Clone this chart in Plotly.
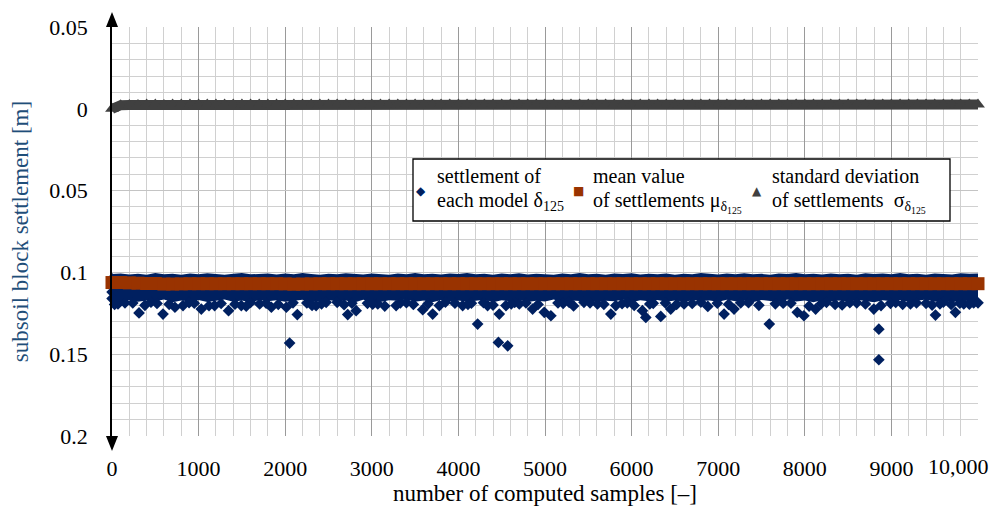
import plotly.graph_objects as go

# ---------------- data ----------------
# sample numbers every 100 samples (0 ... 10000)
stat_samples = [0, 100, 200, 300, 400, 500, 600, 700, 800, 900,
                1000, 1100, 1200, 1300, 1400, 1500, 1600, 1700, 1800, 1900,
                2000, 2100, 2200, 2300, 2400, 2500, 2600, 2700, 2800, 2900,
                3000, 3100, 3200, 3300, 3400, 3500, 3600, 3700, 3800, 3900,
                4000, 4100, 4200, 4300, 4400, 4500, 4600, 4700, 4800, 4900,
                5000, 5100, 5200, 5300, 5400, 5500, 5600, 5700, 5800, 5900,
                6000, 6100, 6200, 6300, 6400, 6500, 6600, 6700, 6800, 6900,
                7000, 7100, 7200, 7300, 7400, 7500, 7600, 7700, 7800, 7900,
                8000, 8100, 8200, 8300, 8400, 8500, 8600, 8700, 8800, 8900,
                9000, 9100, 9200, 9300, 9400, 9500, 9600, 9700, 9800, 9900, 10000]

# extent of the dense cloud of settlements δ125 [m] (smallest / largest per 100 samples)
band_upper = [0.1010, 0.1006, 0.1013, 0.1008, 0.1014, 0.1004, 0.1011, 0.1009, 0.1015, 0.1007,
              0.1012, 0.1005, 0.1010, 0.1014, 0.1008, 0.1003, 0.1012, 0.1009, 0.1006, 0.1013,
              0.1007, 0.1011, 0.1004, 0.1010, 0.1014, 0.1008, 0.1012, 0.1005, 0.1009, 0.1013,
              0.1006, 0.1010, 0.1015, 0.1007, 0.1011, 0.1004, 0.1012, 0.1008, 0.1013, 0.1006,
              0.1010, 0.1003, 0.1012, 0.1009, 0.1014, 0.1007, 0.1011, 0.1005, 0.1013, 0.1008,
              0.1010, 0.1014, 0.1006, 0.1011, 0.1004, 0.1012, 0.1008, 0.1015, 0.1007, 0.1010,
              0.1005, 0.1013, 0.1009, 0.1011, 0.1006, 0.1014, 0.1008, 0.1012, 0.1004, 0.1010,
              0.1013, 0.1007, 0.1011, 0.1005, 0.1012, 0.1009, 0.1014, 0.1006, 0.1010, 0.1003,
              0.1012, 0.1008, 0.1013, 0.1006, 0.1011, 0.1009, 0.1015, 0.1005, 0.1010, 0.1007,
              0.1012, 0.1004, 0.1011, 0.1008, 0.1014, 0.1006, 0.1010, 0.1013, 0.1005, 0.1009, 0.1006]
band_lower = [0.1182, 0.1174, 0.1168, 0.1180, 0.1171, 0.1177, 0.1166, 0.1183, 0.1172, 0.1178,
              0.1169, 0.1181, 0.1174, 0.1166, 0.1179, 0.1172, 0.1184, 0.1168, 0.1176, 0.1170,
              0.1180, 0.1173, 0.1167, 0.1182, 0.1175, 0.1169, 0.1178, 0.1171, 0.1184, 0.1167,
              0.1176, 0.1181, 0.1170, 0.1174, 0.1166, 0.1179, 0.1172, 0.1183, 0.1168, 0.1177,
              0.1171, 0.1180, 0.1174, 0.1167, 0.1182, 0.1170, 0.1176, 0.1169, 0.1181, 0.1173,
              0.1178, 0.1166, 0.1183, 0.1171, 0.1175, 0.1168, 0.1180, 0.1173, 0.1177, 0.1165,
              0.1182, 0.1170, 0.1176, 0.1168, 0.1179, 0.1172, 0.1184, 0.1169, 0.1175, 0.1171,
              0.1180, 0.1167, 0.1177, 0.1173, 0.1182, 0.1169, 0.1174, 0.1181, 0.1166, 0.1178,
              0.1171, 0.1183, 0.1168, 0.1176, 0.1172, 0.1180, 0.1167, 0.1175, 0.1182, 0.1170,
              0.1177, 0.1169, 0.1181, 0.1173, 0.1166, 0.1179, 0.1172, 0.1184, 0.1170, 0.1176, 0.1180]

# individually visible settlement samples (lower fringe and outliers)
fringe_samples = [69, 312, 589, 727, 820, 1031, 1185, 1346, 1493, 1705, 1840, 2013, 2140, 2051, 2357, 2473,
                  2722, 2819, 3069, 3281, 3588, 3703, 4049, 4222, 4337, 4472, 4549, 4462, 4569, 4703, 4857, 4992,
                  5068, 5279, 5606, 5760, 5818, 6125, 6164, 6337, 6452, 6606, 7068, 7183, 7590,
                  7913, 7990, 8125, 8431, 8797, 8855, 8855, 9220, 9509, 9739, 9836,
                  150, 450, 950, 1600, 2250, 2600, 2950, 3400, 3850, 4150, 4650, 5150, 5450, 5950,
                  6250, 6800, 7350, 7750, 8250, 8600, 9050, 9400, 9600, 9950,
                  30, 240, 380, 520, 660, 890, 1120, 1260, 1420, 1550, 1780, 1920, 2090, 2310, 2420,
                  2680, 2770, 3010, 3150, 3330, 3480, 3650, 3780, 3960, 4110, 4290, 4400, 4610, 4780,
                  4920, 5210, 5330, 5520, 5680, 5890, 6030, 6210, 6390, 6520, 6700, 6880, 6990, 7120,
                  7260, 7470, 7660, 7840, 8050, 8190, 8350, 8520, 8700, 8880, 8990, 9130, 9290, 9470,
                  9560, 9690, 9790, 9900, 10000]
fringe_values = [0.1193, 0.1248, 0.1255, 0.1213, 0.1203, 0.1224, 0.1203, 0.1234, 0.1203, 0.1193, 0.1213, 0.1213,
                 0.1258, 0.1432, 0.1203, 0.1183,
                 0.1258, 0.1234, 0.1193, 0.1203, 0.1228, 0.1255, 0.1203, 0.1316, 0.1203, 0.1255, 0.1203, 0.1428,
                 0.1449, 0.1193, 0.1224, 0.1244,
                 0.1265, 0.1183, 0.1193, 0.1255, 0.1203, 0.1234, 0.1275, 0.1269, 0.1224, 0.1193, 0.1255, 0.1224,
                 0.1316,
                 0.1244, 0.1265, 0.1224, 0.1199, 0.1224, 0.1347, 0.1534, 0.1193, 0.1261, 0.1244, 0.1193,
                 0.1186, 0.1182, 0.1188, 0.1184, 0.1187, 0.1183, 0.1189, 0.1185, 0.1182, 0.1188, 0.1184, 0.1187,
                 0.1183, 0.1186, 0.1189, 0.1182, 0.1185, 0.1188, 0.1183, 0.1186, 0.1184, 0.1189, 0.1182, 0.1187,
                 0.1196, 0.1187, 0.1201, 0.1190, 0.1195, 0.1185, 0.1204, 0.1190, 0.1194, 0.1207, 0.1188, 0.1196,
                 0.1186, 0.1202, 0.1192,
                 0.1197, 0.1188, 0.1194, 0.1206, 0.1186, 0.1196, 0.1192, 0.1203, 0.1188, 0.1195, 0.1185, 0.1200,
                 0.1193, 0.1187,
                 0.1196, 0.1189, 0.1205, 0.1186, 0.1195, 0.1191, 0.1202, 0.1193, 0.1187, 0.1196, 0.1190, 0.1208,
                 0.1188, 0.1195,
                 0.1186, 0.1201, 0.1192, 0.1188, 0.1206, 0.1191, 0.1196, 0.1185, 0.1193, 0.1203, 0.1189, 0.1195,
                 0.1187, 0.1200,
                 0.1192, 0.1196, 0.1188, 0.1194, 0.1186]

# first samples (cloud already spread at sample 1)
first_samples = [1, 1, 1, 1]
first_values = [0.1040, 0.1080, 0.1120, 0.1160]

# running mean μ and standard deviation σ of settlements, every 100 samples
mean_values = [0.1062, 0.1062, 0.1064, 0.1066, 0.1068, 0.1068, 0.1071, 0.1071, 0.1070, 0.1069,
               0.1069, 0.1069, 0.1069, 0.1069, 0.1069, 0.1069, 0.1069, 0.1069, 0.1069, 0.1069,
               0.1070, 0.1072, 0.1071, 0.1070, 0.1069, 0.1069, 0.1069, 0.1069, 0.1069, 0.1069,
               0.1069, 0.1069, 0.1069, 0.1069, 0.1069, 0.1069, 0.1069, 0.1069, 0.1069, 0.1069,
               0.1069, 0.1069, 0.1069, 0.1069, 0.1069, 0.1069, 0.1069, 0.1069, 0.1069, 0.1069,
               0.1069, 0.1069, 0.1069, 0.1069, 0.1069, 0.1069, 0.1069, 0.1069, 0.1069, 0.1069,
               0.1069, 0.1069, 0.1069, 0.1069, 0.1069, 0.1069, 0.1069, 0.1069, 0.1069, 0.1069,
               0.1069, 0.1069, 0.1069, 0.1069, 0.1069, 0.1069, 0.1069, 0.1069, 0.1069, 0.1069,
               0.1069, 0.1069, 0.1069, 0.1069, 0.1069, 0.1069, 0.1069, 0.1069, 0.1069, 0.1069,
               0.1069, 0.1069, 0.1069, 0.1069, 0.1069, 0.1069, 0.1069, 0.1069, 0.1069, 0.1069, 0.1069]
std_values = [0.0000, 0.0022, 0.0023, 0.0023, 0.0026, 0.0026, 0.0023, 0.0026, 0.0026, 0.0026,
              0.0026, 0.0026, 0.0026, 0.0026, 0.0026, 0.0026, 0.0026, 0.0026, 0.0026, 0.0026,
              0.0026, 0.0026, 0.0026, 0.0026, 0.0026, 0.0026, 0.0026, 0.0026, 0.0026, 0.0026,
              0.0026, 0.0026, 0.0026, 0.0026, 0.0026, 0.0026, 0.0026, 0.0026, 0.0026, 0.0026,
              0.0026, 0.0026, 0.0026, 0.0026, 0.0026, 0.0026, 0.0026, 0.0026, 0.0026, 0.0026,
              0.0026, 0.0026, 0.0026, 0.0026, 0.0026, 0.0026, 0.0026, 0.0026, 0.0026, 0.0026,
              0.0026, 0.0026, 0.0026, 0.0026, 0.0026, 0.0026, 0.0026, 0.0026, 0.0026, 0.0026,
              0.0026, 0.0026, 0.0026, 0.0026, 0.0026, 0.0026, 0.0026, 0.0026, 0.0026, 0.0026,
              0.0026, 0.0026, 0.0026, 0.0026, 0.0026, 0.0026, 0.0026, 0.0026, 0.0026, 0.0026,
              0.0026, 0.0026, 0.0026, 0.0026, 0.0026, 0.0026, 0.0026, 0.0026, 0.0026, 0.0026, 0.0026]

x_tick_vals = [0, 1000, 2000, 3000, 4000, 5000, 6000, 7000, 8000, 9000, 10000]
x_tick_text = ["0", "1000", "2000", "3000", "4000", "5000", "6000", "7000", "8000", "9000", ""]
x_last_label = "10,000"
y_tick_vals = [-0.2, -0.15, -0.1, -0.05, 0.0, 0.05]
y_tick_text = ["0.2", "0.15", "0.1", "0.05", "0", "0.05"]

legend_lines = [("settlement of", "each model δ<sub>125</sub>"),
                ("mean value", "of settlements μ<sub>δ<sub>125</sub></sub>"),
                ("standard deviation", "of settlements  σ<sub>δ<sub>125</sub></sub>")]

# ---------------- styling ----------------
NAVY = "#002060"
BROWN = "#993300"
GREY = "#404040"
FONT = "Liberation Serif"

W, H = 1003, 507
ML, MR, MT, MB = 112, 25, 27, 71
PW, PH = W - ML - MR, H - MT - MB


def px_x(p):
    return (p - ML) / PW


def px_y(p):
    return (H - MB - p) / PH


fig = go.Figure()

# dense cloud of settlements
fig.add_trace(go.Scatter(
    x=stat_samples + stat_samples[::-1],
    y=[-v for v in band_upper] + [-v for v in band_lower[::-1]],
    fill="toself", fillcolor=NAVY, mode="lines", line=dict(width=0, color=NAVY),
    showlegend=False, hoverinfo="skip"))

fig.add_trace(go.Scatter(
    x=fringe_samples + first_samples, y=[-v for v in fringe_values + first_values],
    mode="markers", marker=dict(symbol="diamond", size=9, color=NAVY, line=dict(width=0)),
    cliponaxis=False, showlegend=False))

# mean value
fig.add_trace(go.Scatter(
    x=stat_samples, y=[-v for v in mean_values], mode="markers",
    marker=dict(symbol="square", size=13, color=BROWN, line=dict(width=0)),
    cliponaxis=False, showlegend=False))

# standard deviation
fig.add_trace(go.Scatter(
    x=stat_samples, y=std_values, mode="lines+markers",
    line=dict(color=GREY, width=10),
    marker=dict(symbol="triangle-up", size=12, color=GREY, line=dict(width=0)),
    cliponaxis=False, showlegend=False))

# y-axis arrows (paper refs so they are not clipped)
fig.add_shape(type="path", xref="paper", yref="paper", xsizemode="pixel", ysizemode="pixel",
              xanchor=0, yanchor=1, path="M -6,0 L 6,0 L 0,15 Z",
              fillcolor="black", line=dict(width=0), layer="above")
fig.add_shape(type="path", xref="paper", yref="paper", xsizemode="pixel", ysizemode="pixel",
              xanchor=0, yanchor=0, path="M -6,0 L 6,0 L 0,-15 Z",
              fillcolor="black", line=dict(width=0), layer="above")

# last x tick label, kept inside the page like in the reference
fig.add_annotation(x=x_tick_vals[-1], xref="x", y=px_y(466), yref="paper", text=x_last_label,
                   showarrow=False, font=dict(family=FONT, size=22, color="black"),
                   xanchor="right", yanchor="middle", xshift=13)

# legend (box, symbols, text)
fig.add_shape(type="rect", xref="paper", yref="paper",
              x0=px_x(413), x1=px_x(950), y0=px_y(221), y1=px_y(159),
              fillcolor="white", line=dict(color="black", width=1.3), layer="above")

sym_specs = [("◆", NAVY, 421), ("■", BROWN, 578), ("▲", GREY, 757)]
for s, c, xp in sym_specs:
    fig.add_annotation(x=px_x(xp), y=px_y(191), xref="paper", yref="paper", text=s,
                       showarrow=False, font=dict(family="DejaVu Sans", size=12, color=c),
                       xanchor="center", yanchor="middle")

text_x = [435, 591, 770]
for (l1, l2), xp in zip(legend_lines, text_x):
    fig.add_annotation(x=px_x(xp), y=px_y(176), xref="paper", yref="paper", text=l1,
                       showarrow=False, font=dict(family=FONT, size=20, color="black"),
                       xanchor="left", yanchor="middle")
    fig.add_annotation(x=px_x(xp), y=px_y(199), xref="paper", yref="paper", text=l2,
                       showarrow=False, font=dict(family=FONT, size=20, color="black"),
                       xanchor="left", yanchor="top", yshift=12)

fig.update_xaxes(
    range=[0, 10000], tickvals=x_tick_vals, ticktext=x_tick_text, automargin=False,
    showgrid=True, gridcolor="#9a9a9a", gridwidth=1,
    minor=dict(dtick=200, showgrid=True, gridcolor="#d0d0d0", gridwidth=1),
    zeroline=False, showline=False, ticks="", ticklabeloverflow="allow",
    tickfont=dict(family=FONT, size=22, color="black"), ticklabelstandoff=17,
    title=dict(text="number of computed samples [–]", font=dict(family=FONT, size=23, color="black"),
               standoff=2))

fig.update_yaxes(
    range=[-0.2, 0.05], tickvals=y_tick_vals, ticktext=y_tick_text, automargin=False,
    showgrid=True, gridcolor="#c4c4c4", gridwidth=1,
    minor=dict(dtick=0.01, showgrid=True, gridcolor="#d0d0d0", gridwidth=1),
    zeroline=True, zerolinecolor="black", zerolinewidth=1,
    showline=True, linecolor="black", linewidth=1.5, ticks="",
    tickfont=dict(family=FONT, size=22, color="black"), ticklabelstandoff=18,
    title=dict(text="subsoil block settlement [m]", font=dict(family=FONT, size=23, color="#1f4e79"),
               standoff=14))

fig.update_layout(
    width=W, height=H, autosize=False, margin=dict(l=ML, r=MR, t=MT, b=MB),
    paper_bgcolor="white", plot_bgcolor="white", showlegend=False)

fig.write_html("out.html",
               config={"responsive": False, "displayModeBar": False},
               post_script="document.body.style.margin='0px';")
